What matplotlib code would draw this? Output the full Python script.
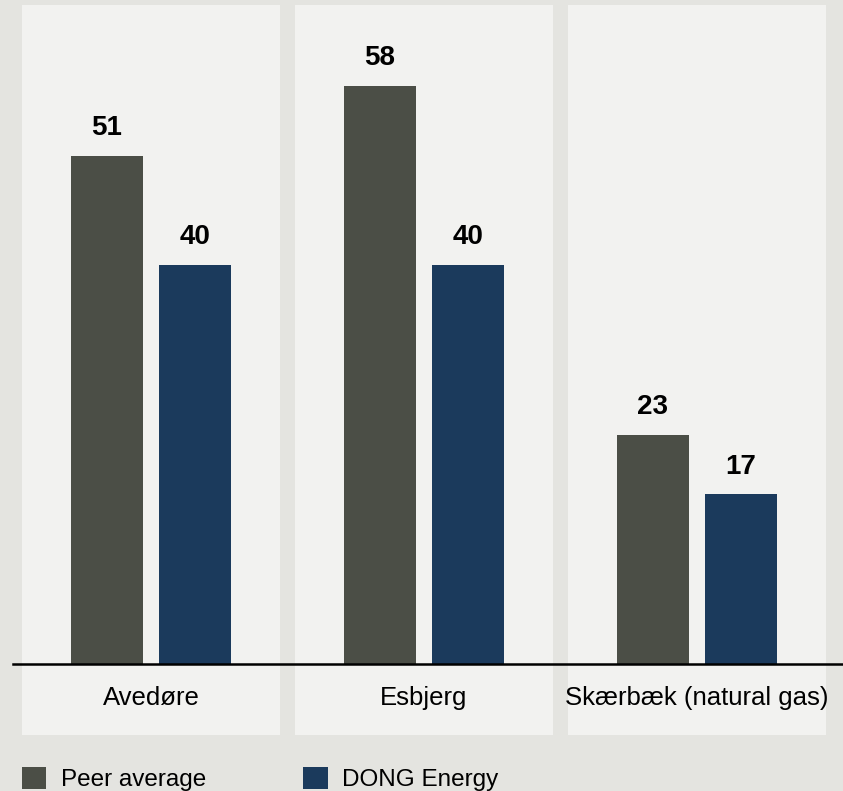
import numpy as np
import matplotlib.pyplot as plt
from matplotlib.patches import Rectangle

plt.rcParams['font.family'] = ['Liberation Sans', 'DejaVu Sans']

categories = ['Avedøre', 'Esbjerg', 'Skærbæk (natural gas)']
peer_average = [51, 58, 23]
dong_energy = [40, 40, 17]
series_names = ['Peer average', 'DONG Energy']

bg_color = '#e4e4e0'
panel_color = '#f2f2f0'
peer_color = '#4b4e46'
dong_color = '#1b3a5c'

fig = plt.figure(figsize=(8.43, 7.91), dpi=100, facecolor=bg_color)
ax = fig.add_axes([0, 0, 1, 1])
ax.set_facecolor(bg_color)

# axis ranges chosen so that the layout fits the figure in pixels
ax.set_xlim(-0.553, 2.535)
ax.set_ylim(-12.74, 66.6)
ax.axis('off')

x = np.arange(len(categories))
offset = 0.161
width = 0.263

for xi in x:
    ax.add_patch(Rectangle((xi - 0.4725, -7.12), 0.945, 73.22,
                           facecolor=panel_color, edgecolor='none', zorder=0))

b1 = ax.bar(x - offset, peer_average, width, color=peer_color, zorder=2, label=series_names[0])
b2 = ax.bar(x + offset, dong_energy, width, color=dong_color, zorder=2, label=series_names[1])

for bars, vals in [(b1, peer_average), (b2, dong_energy)]:
    for bar, v in zip(bars, vals):
        ax.annotate(str(v), (bar.get_x() + bar.get_width() / 2, v),
                    xytext=(0, 20), textcoords='offset points',
                    ha='center', va='center', fontsize=20, fontweight='bold')

ax.axhline(0, xmin=13 / 843, xmax=1, color='black', linewidth=1.8, zorder=3)

for xi, name in zip(x, categories):
    ax.text(xi, -3.4, name, ha='center', va='center', fontsize=18.5)

fig.legend(handles=[b1, b2], labels=series_names, loc='center left',
           bbox_to_anchor=(22 / 843, 0.015), ncol=2, frameon=False, borderpad=0,
           borderaxespad=0, fontsize=17.5, handlelength=1.0, handleheight=1.0,
           handletextpad=0.6, columnspacing=4.0)

fig.savefig('out.png', dpi=100, facecolor=bg_color)
